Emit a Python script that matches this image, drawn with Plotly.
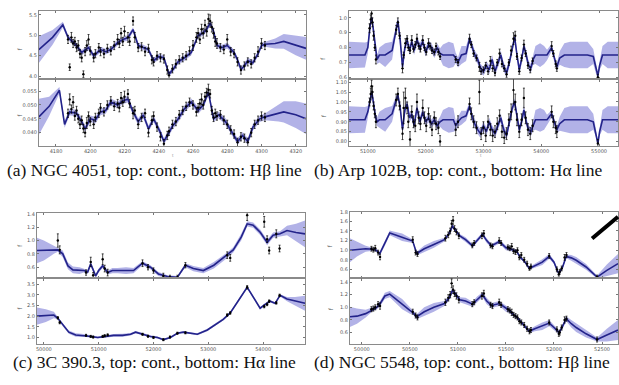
import numpy as np
import plotly.graph_objects as go

# ---------------- Panel (a) NGC 4051 ----------------
a_gp_t_cont = [4170, 4178, 4184, 4187, 4189, 4192, 4195, 4199, 4202, 4206,
               4209, 4212, 4216, 4219, 4222, 4225, 4228, 4231, 4234, 4237,
               4240, 4243, 4246, 4249, 4251, 4255, 4259, 4263, 4266, 4268,
               4270, 4272, 4274, 4277, 4280, 4284, 4286, 4288, 4290, 4292,
               4295, 4298, 4300, 4302, 4308, 4313, 4320, 4326]
a_cont_mean = [4.65, 4.95, 5.26, 4.95, 4.87, 4.75, 4.58, 4.70, 4.50, 4.65,
               4.60, 4.65, 4.82, 4.90, 4.94, 5.14, 4.75, 4.70, 4.65, 4.38,
               4.48, 4.45, 4.05, 4.20, 4.34, 4.45, 4.58, 5.00, 5.06, 5.15,
               5.30, 5.10, 4.75, 4.70, 4.75, 4.58, 4.40, 4.17, 4.25, 4.38,
               4.33, 4.55, 4.75, 4.78, 4.80, 4.85, 4.75, 4.68]
a_cont_sig = [0.33, 0.18, 0.07, 0.06, 0.06, 0.07, 0.06, 0.07, 0.06, 0.07,
              0.07, 0.06, 0.07, 0.06, 0.07, 0.06, 0.07, 0.07, 0.06, 0.07,
              0.07, 0.06, 0.06, 0.07, 0.06, 0.07, 0.07, 0.06, 0.07, 0.06,
              0.06, 0.07, 0.06, 0.07, 0.07, 0.06, 0.07, 0.06, 0.07, 0.07,
              0.06, 0.07, 0.06, 0.06, 0.12, 0.18, 0.24, 0.28]

a_gp_t_line = [4170, 4176, 4182, 4185, 4188, 4192, 4195, 4197, 4200, 4203,
               4206, 4209, 4212, 4216, 4219, 4222, 4225, 4228, 4231, 4234,
               4237, 4241, 4243, 4246, 4248, 4251, 4255, 4259, 4263, 4266,
               4269, 4272, 4275, 4279, 4283, 4286, 4289, 4292, 4295, 4299,
               4302, 4310, 4313, 4320, 4326]
a_line_mean = [0.0457, 0.0495, 0.0553, 0.0430, 0.0475, 0.0470, 0.0440, 0.0414, 0.0450, 0.0445,
               0.0475, 0.0480, 0.0511, 0.0500, 0.0515, 0.0521, 0.0475, 0.0440, 0.0464, 0.0414,
               0.0450, 0.0400, 0.0368, 0.0400, 0.0423, 0.0446, 0.0486, 0.0511, 0.0480, 0.0500,
               0.0546, 0.0450, 0.0464, 0.0440, 0.0400, 0.0368, 0.0390, 0.0368, 0.0420, 0.0450,
               0.0457, 0.0470, 0.0475, 0.0465, 0.0450]
a_line_sig = [0.0065, 0.0035, 0.0012, 0.0012, 0.0012, 0.0012, 0.0012, 0.0012, 0.0012, 0.0012,
              0.0012, 0.0012, 0.0012, 0.0012, 0.0012, 0.0012, 0.0012, 0.0012, 0.0012, 0.0012,
              0.0012, 0.0012, 0.0012, 0.0012, 0.0012, 0.0012, 0.0012, 0.0012, 0.0012, 0.0012,
              0.0012, 0.0012, 0.0012, 0.0012, 0.0012, 0.0012, 0.0012, 0.0012, 0.0012, 0.0012,
              0.0012, 0.0030, 0.0038, 0.0048, 0.0055]

a_obs_t = [4187, 4188, 4189, 4190, 4191, 4192, 4193, 4194, 4195, 4196,
           4197, 4198, 4199, 4200, 4202, 4203, 4205, 4206, 4208, 4210,
           4212, 4214, 4216, 4217, 4218, 4219, 4220, 4222, 4223, 4225,
           4226, 4228, 4230, 4232, 4234, 4236, 4237, 4239, 4241, 4243,
           4245, 4246, 4248, 4250, 4252, 4254, 4256, 4258, 4260, 4262,
           4263, 4264, 4265, 4266, 4267, 4268, 4269, 4270, 4271, 4272,
           4273, 4274, 4276, 4278, 4280, 4282, 4284, 4286, 4288, 4290,
           4292, 4294, 4296, 4298, 4300, 4302]
a_obs_cont = [4.90, 4.22, 4.95, 4.80, 4.85, 4.70, 4.75, 4.55, 4.45, 4.05,
              4.60, 4.75, 4.90, 4.62, 4.45, 4.55, 4.70, 4.60, 4.55, 4.68,
              4.62, 4.75, 4.90, 4.80, 5.05, 4.85, 5.10, 4.95, 4.85, 5.35,
              4.95, 4.70, 4.72, 4.60, 4.68, 4.40, 4.35, 4.50, 4.45, 4.42,
              4.15, 4.02, 4.18, 4.30, 4.40, 4.45, 4.50, 4.62, 4.75, 4.95,
              5.05, 4.90, 5.15, 5.05, 5.25, 5.10, 5.40, 5.35, 5.20, 5.05,
              4.85, 4.80, 4.70, 4.65, 4.90, 4.60, 4.55, 4.35, 4.15, 4.25,
              4.35, 4.30, 4.45, 4.60, 4.80, 4.75]
a_obs_cont_err = [0.10, 0.08, 0.12, 0.10, 0.10, 0.10, 0.12, 0.10, 0.10, 0.08,
                  0.10, 0.12, 0.12, 0.10, 0.10, 0.10, 0.10, 0.10, 0.10, 0.10,
                  0.10, 0.10, 0.12, 0.10, 0.12, 0.10, 0.12, 0.12, 0.10, 0.10,
                  0.12, 0.10, 0.10, 0.10, 0.10, 0.10, 0.10, 0.10, 0.10, 0.10,
                  0.10, 0.08, 0.10, 0.10, 0.10, 0.10, 0.10, 0.10, 0.12, 0.12,
                  0.12, 0.10, 0.12, 0.12, 0.12, 0.12, 0.12, 0.15, 0.12, 0.12,
                  0.12, 0.12, 0.10, 0.10, 0.12, 0.10, 0.10, 0.10, 0.10, 0.10,
                  0.10, 0.10, 0.10, 0.12, 0.12, 0.10]
a_obs_line = [0.0470, 0.0520, 0.0485, 0.0510, 0.0460, 0.0480, 0.0450, 0.0430, 0.0445, 0.0415,
              0.0400, 0.0435, 0.0460, 0.0440, 0.0430, 0.0455, 0.0470, 0.0490, 0.0475, 0.0500,
              0.0515, 0.0495, 0.0505, 0.0490, 0.0525, 0.0510, 0.0530, 0.0540, 0.0505, 0.0470,
              0.0480, 0.0430, 0.0455, 0.0470, 0.0400, 0.0445, 0.0460, 0.0420, 0.0385, 0.0360,
              0.0390, 0.0405, 0.0430, 0.0440, 0.0465, 0.0480, 0.0495, 0.0510, 0.0500, 0.0475,
              0.0490, 0.0505, 0.0520, 0.0500, 0.0530, 0.0545, 0.0555, 0.0540, 0.0480, 0.0455,
              0.0470, 0.0460, 0.0465, 0.0445, 0.0430, 0.0410, 0.0395, 0.0365, 0.0385, 0.0380,
              0.0365, 0.0400, 0.0430, 0.0445, 0.0460, 0.0455]
a_obs_line_err = [0.0015, 0.0020, 0.0015, 0.0020, 0.0015, 0.0015, 0.0015, 0.0015, 0.0015, 0.0015,
                  0.0015, 0.0020, 0.0015, 0.0015, 0.0015, 0.0015, 0.0015, 0.0015, 0.0015, 0.0015,
                  0.0015, 0.0015, 0.0015, 0.0015, 0.0020, 0.0015, 0.0020, 0.0015, 0.0015, 0.0020,
                  0.0015, 0.0015, 0.0015, 0.0015, 0.0015, 0.0015, 0.0015, 0.0015, 0.0015, 0.0015,
                  0.0015, 0.0015, 0.0015, 0.0015, 0.0015, 0.0015, 0.0015, 0.0015, 0.0015, 0.0015,
                  0.0015, 0.0015, 0.0020, 0.0015, 0.0015, 0.0015, 0.0020, 0.0015, 0.0015, 0.0015,
                  0.0015, 0.0015, 0.0015, 0.0015, 0.0015, 0.0015, 0.0015, 0.0015, 0.0015, 0.0015,
                  0.0015, 0.0015, 0.0015, 0.0015, 0.0015, 0.0015]

# ---------------- Panel (b) Arp 102B ----------------
b_gp_t = [50670, 50950, 51000, 51040, 51070, 51100, 51130, 51160, 51200, 51300,
          51420, 51480, 51520, 51560, 51600, 51640, 51680, 51720, 51760, 51800,
          51850, 51900, 51950, 52000, 52050, 52100, 52150, 52200, 52250, 52300,
          52400, 52480, 52520, 52560, 52620, 52700, 52760, 52810, 52850, 52900,
          52950, 53000, 53050, 53100, 53150, 53200, 53250, 53300, 53350, 53400,
          53450, 53500, 53540, 53580, 53620, 53660, 53700, 53740, 53780, 53820,
          53860, 53900, 53980, 54050, 54100, 54180, 54230, 54270, 54320, 54400,
          54500, 54800, 54900, 54950, 54980, 55010, 55060, 55150, 55330]
b_cont_mean = [0.75, 0.75, 0.80, 0.95, 1.00, 0.90, 0.78, 0.72, 0.75, 0.75,
               0.78, 0.90, 0.98, 0.85, 0.67, 0.80, 0.85, 0.78, 0.84, 0.78,
               0.85, 0.80, 0.84, 0.77, 0.82, 0.80, 0.76, 0.80, 0.76, 0.75,
               0.75, 0.75, 0.73, 0.70, 0.75, 0.76, 0.86, 0.80, 0.75, 0.72,
               0.66, 0.64, 0.68, 0.65, 0.72, 0.64, 0.70, 0.75, 0.67, 0.63,
               0.70, 0.80, 0.87, 0.75, 0.65, 0.72, 0.81, 0.75, 0.68, 0.66,
               0.72, 0.75, 0.75, 0.75, 0.75, 0.80, 0.72, 0.67, 0.73, 0.75,
               0.75, 0.75, 0.74, 0.65, 0.61, 0.68, 0.75, 0.75, 0.75]
b_cont_sig = [0.09, 0.085, 0.04, 0.025, 0.025, 0.025, 0.025, 0.03, 0.05, 0.08,
              0.06, 0.03, 0.025, 0.025, 0.025, 0.03, 0.03, 0.03, 0.03, 0.03,
              0.03, 0.03, 0.03, 0.03, 0.03, 0.03, 0.03, 0.03, 0.035, 0.07,
              0.09, 0.08, 0.035, 0.035, 0.06, 0.05, 0.025, 0.03, 0.03, 0.03,
              0.03, 0.03, 0.03, 0.03, 0.03, 0.03, 0.03, 0.03, 0.03, 0.03,
              0.03, 0.03, 0.025, 0.03, 0.03, 0.03, 0.03, 0.03, 0.03, 0.03,
              0.035, 0.06, 0.08, 0.06, 0.035, 0.025, 0.025, 0.025, 0.045, 0.08,
              0.09, 0.09, 0.05, 0.03, 0.02, 0.03, 0.06, 0.09, 0.09]
b_line_mean = [0.91, 0.91, 0.95, 1.02, 1.05, 0.99, 0.93, 0.90, 0.91, 0.91,
               0.94, 1.00, 1.035, 0.97, 0.86, 0.96, 0.99, 0.92, 0.94, 0.88,
               0.97, 0.90, 0.95, 0.90, 0.92, 0.89, 0.91, 0.88, 0.90, 0.91,
               0.91, 0.91, 0.88, 0.90, 0.92, 0.93, 0.98, 0.92, 0.89, 0.86,
               0.84, 0.88, 0.85, 0.90, 0.86, 0.84, 0.88, 0.92, 0.86, 0.83,
               0.90, 0.97, 1.00, 0.92, 0.86, 0.90, 0.96, 0.90, 0.86, 0.85,
               0.88, 0.91, 0.91, 0.91, 0.91, 0.94, 0.89, 0.86, 0.89, 0.91,
               0.91, 0.91, 0.90, 0.84, 0.79, 0.85, 0.91, 0.91, 0.91]
b_line_sig = [0.068, 0.065, 0.03, 0.018, 0.018, 0.018, 0.018, 0.022, 0.04, 0.06,
              0.04, 0.022, 0.018, 0.018, 0.018, 0.022, 0.022, 0.022, 0.022, 0.022,
              0.022, 0.022, 0.022, 0.022, 0.022, 0.022, 0.022, 0.022, 0.025, 0.05,
              0.065, 0.06, 0.025, 0.025, 0.035, 0.025, 0.018, 0.022, 0.022, 0.022,
              0.022, 0.022, 0.022, 0.022, 0.022, 0.022, 0.022, 0.022, 0.022, 0.022,
              0.022, 0.022, 0.018, 0.022, 0.022, 0.022, 0.022, 0.022, 0.022, 0.022,
              0.025, 0.05, 0.06, 0.05, 0.025, 0.018, 0.018, 0.018, 0.035, 0.06,
              0.068, 0.068, 0.04, 0.02, 0.015, 0.02, 0.05, 0.068, 0.068]

b_obs_t = [51030, 51050, 51065, 51080, 51100, 51120, 51140, 51490, 51520, 51550,
           51600, 51620, 51650, 51680, 51700, 51730, 51760, 51790, 51820, 51850,
           51880, 51910, 51950, 51980, 52010, 52050, 52080, 52110, 52150, 52180,
           52220, 52250, 52520, 52560, 52760, 52790, 52830, 52880, 52930, 52960,
           53000, 53040, 53080, 53120, 53160, 53200, 53240, 53280, 53320, 53360,
           53400, 53440, 53480, 53520, 53550, 53580, 53620, 53660, 53700, 53730,
           53770, 53810, 53850, 54180, 54210, 54250, 54270, 54980]
b_obs_cont = [0.93, 0.99, 1.03, 0.97, 0.88, 0.80, 0.72, 0.92, 0.97, 0.88,
              0.66, 0.75, 0.83, 0.86, 0.80, 0.78, 0.85, 0.79, 0.82, 0.86,
              0.81, 0.79, 0.85, 0.80, 0.77, 0.83, 0.81, 0.78, 0.77, 0.81,
              0.77, 0.74, 0.72, 0.70, 0.86, 0.82, 0.76, 0.73, 0.67, 0.64,
              0.65, 0.68, 0.64, 0.71, 0.66, 0.63, 0.70, 0.76, 0.69, 0.66,
              0.62, 0.70, 0.78, 0.86, 0.88, 0.74, 0.64, 0.73, 0.82, 0.76,
              0.68, 0.65, 0.71, 0.81, 0.76, 0.69, 0.66, 0.60]
b_obs_cont_err = [0.03, 0.03, 0.03, 0.03, 0.03, 0.02, 0.03, 0.03, 0.03, 0.02,
                  0.03, 0.02, 0.03, 0.02, 0.02, 0.02, 0.03, 0.02, 0.02, 0.03,
                  0.02, 0.02, 0.03, 0.02, 0.02, 0.03, 0.02, 0.02, 0.02, 0.02,
                  0.02, 0.02, 0.02, 0.02, 0.03, 0.02, 0.02, 0.02, 0.03, 0.02,
                  0.02, 0.02, 0.02, 0.03, 0.02, 0.02, 0.02, 0.03, 0.02, 0.02,
                  0.02, 0.02, 0.03, 0.04, 0.03, 0.02, 0.02, 0.02, 0.03, 0.02,
                  0.02, 0.02, 0.02, 0.03, 0.02, 0.02, 0.02, 0.02]
b_obs_line = [1.00, 1.04, 1.08, 1.05, 0.98, 0.94, 0.90, 1.01, 1.04, 0.98,
              0.84, 0.97, 1.02, 0.97, 0.90, 0.81, 0.95, 0.90, 0.88, 1.00,
              0.92, 0.89, 0.97, 0.92, 0.88, 0.94, 0.90, 0.86, 0.92, 0.89,
              0.87, 0.80, 0.86, 0.90, 0.99, 0.94, 0.90, 0.87, 1.05, 0.84,
              0.87, 0.83, 0.90, 0.86, 0.83, 0.85, 0.89, 0.93, 0.85, 0.82,
              0.84, 0.91, 0.95, 1.06, 1.00, 0.91, 0.85, 0.91, 1.02, 0.92,
              0.86, 0.84, 0.88, 0.95, 0.90, 0.87, 0.85, 0.79]
b_obs_line_err = [0.02, 0.03, 0.03, 0.03, 0.02, 0.02, 0.03, 0.03, 0.03, 0.02,
                  0.03, 0.08, 0.05, 0.03, 0.03, 0.04, 0.03, 0.03, 0.03, 0.04,
                  0.03, 0.03, 0.04, 0.03, 0.03, 0.03, 0.03, 0.03, 0.03, 0.03,
                  0.03, 0.03, 0.03, 0.03, 0.03, 0.03, 0.03, 0.03, 0.06, 0.03,
                  0.03, 0.03, 0.03, 0.03, 0.03, 0.03, 0.03, 0.03, 0.03, 0.03,
                  0.03, 0.03, 0.04, 0.07, 0.04, 0.03, 0.03, 0.03, 0.05, 0.03,
                  0.03, 0.03, 0.03, 0.03, 0.03, 0.03, 0.03, 0.02]

# ---------------- Panel (c) 3C 390.3 ----------------
c_gp_t_cont = [49873, 50000, 50182, 50255, 50345, 50440, 50530, 50650, 50730, 50800,
               50855, 50945, 51000, 51073, 51164, 51250, 51345, 51500, 51636, 51800,
               51945, 52090, 52255, 52436, 52582, 52727, 52909, 53100, 53345, 53455,
               53600, 53709, 53818, 53950, 54073, 54182, 54309, 54436, 54600, 54764]
c_cont_mean = [0.85, 0.85, 0.86, 0.86, 0.80, 0.62, 0.56, 0.55, 0.55, 0.53,
               0.65, 0.47, 0.55, 0.62, 0.52, 0.55, 0.55, 0.55, 0.55, 0.66,
               0.60, 0.50, 0.46, 0.45, 0.63, 0.58, 0.55, 0.63, 0.78, 0.86,
               1.05, 1.25, 1.23, 1.12, 0.97, 1.08, 1.10, 1.15, 1.12, 1.10]
c_cont_sig = [0.19, 0.15, 0.06, 0.03, 0.05, 0.05, 0.05, 0.05, 0.03, 0.03,
              0.03, 0.03, 0.03, 0.03, 0.03, 0.04, 0.04, 0.05, 0.04, 0.03,
              0.03, 0.03, 0.02, 0.02, 0.03, 0.04, 0.04, 0.05, 0.04, 0.04,
              0.05, 0.04, 0.04, 0.04, 0.04, 0.04, 0.04, 0.07, 0.13, 0.20]
c_gp_t_line = [49873, 50037, 50182, 50255, 50345, 50455, 50582, 50727, 50855, 50982,
               51127, 51273, 51436, 51582, 51673, 51800, 51945, 52073, 52182, 52309,
               52436, 52545, 52673, 52800, 52982, 53127, 53273, 53400, 53545, 53709,
               53818, 53945, 54036, 54127, 54218, 54309, 54436, 54582, 54764]
c_line_mean = [2.00, 2.02, 2.05, 1.90, 1.60, 1.25, 1.12, 1.10, 1.05, 1.00,
               1.05, 1.10, 1.10, 1.15, 1.25, 1.15, 1.05, 1.00, 0.90, 1.00,
               1.20, 1.25, 1.20, 1.15, 1.35, 1.60, 1.85, 2.15, 2.70, 3.35,
               2.90, 2.37, 2.55, 2.70, 2.60, 2.97, 2.80, 2.70, 2.60]
c_line_sig = [0.40, 0.30, 0.15, 0.05, 0.07, 0.08, 0.08, 0.06, 0.05, 0.05,
              0.05, 0.06, 0.07, 0.06, 0.05, 0.05, 0.05, 0.05, 0.04, 0.04,
              0.04, 0.04, 0.05, 0.05, 0.06, 0.07, 0.06, 0.05, 0.06, 0.05,
              0.07, 0.05, 0.05, 0.05, 0.05, 0.05, 0.10, 0.20, 0.35]
c_obs_t = [50255, 50290, 50770, 50855, 50900, 51073, 51110, 51164, 51800, 51900,
           52000, 52180, 52300, 52436, 52582, 53345, 53400, 53709, 54020, 54073,
           54110, 54240, 54300]
c_obs_cont = [1.00, 0.86, 0.52, 0.68, 0.48, 0.72, 0.58, 0.52, 0.66, 0.60,
              0.55, 0.47, 0.45, 0.45, 0.63, 0.78, 0.74, 1.38, 1.28, 1.02,
              0.85, 1.10, 0.88]
c_obs_cont_err = [0.10, 0.06, 0.04, 0.07, 0.04, 0.08, 0.05, 0.05, 0.05, 0.04,
                  0.04, 0.04, 0.03, 0.03, 0.04, 0.05, 0.05, 0.08, 0.08, 0.05,
                  0.05, 0.06, 0.05]
c_obs_line = [1.92, 1.70, 1.10, 1.05, 1.02, 1.05, 1.08, 1.12, 1.15, 1.06,
              1.00, 0.90, 1.02, 1.20, 1.22, 2.05, 2.15, 3.35, 2.45, 2.55,
              2.70, 2.62, 2.97]
c_obs_line_err = [0.06, 0.06, 0.05, 0.05, 0.05, 0.05, 0.05, 0.05, 0.05, 0.05,
                  0.05, 0.05, 0.05, 0.05, 0.05, 0.06, 0.06, 0.08, 0.06, 0.06,
                  0.06, 0.06, 0.06]

# ---------------- Panel (d) NGC 5548 ----------------
d_gp_t = [49876, 49950, 50040, 50115, 50150, 50187, 50240, 50291, 50330, 50420,
          50500, 50530, 50571, 50650, 50750, 50860, 50910, 50944, 50980, 51020,
          51080, 51152, 51200, 51256, 51300, 51349, 51432, 51500, 51536, 51580,
          51609, 51650, 51700, 51743, 51800, 51878, 51951, 52000, 52040, 52054,
          52090, 52127, 52180, 52231, 52334, 52448, 52550, 52666]
d_cont_mean = [1.00, 1.02, 1.03, 1.02, 1.00, 0.93, 1.15, 1.36, 1.33, 1.27,
               1.21, 1.19, 0.93, 1.03, 1.12, 1.22, 1.35, 1.50, 1.40, 1.30,
               1.22, 1.09, 1.20, 1.33, 1.20, 1.09, 1.18, 1.05, 1.03, 1.00,
               0.98, 0.85, 0.75, 0.62, 0.68, 0.75, 0.87, 0.75, 0.55, 0.52,
               0.65, 0.87, 0.84, 0.79, 0.65, 0.44, 0.58, 0.72]
d_cont_sig = [0.25, 0.15, 0.06, 0.03, 0.03, 0.04, 0.06, 0.05, 0.06, 0.08,
              0.05, 0.03, 0.04, 0.07, 0.07, 0.04, 0.04, 0.04, 0.04, 0.04,
              0.05, 0.04, 0.05, 0.04, 0.05, 0.04, 0.04, 0.05, 0.04, 0.03,
              0.03, 0.03, 0.03, 0.03, 0.04, 0.06, 0.05, 0.04, 0.03, 0.03,
              0.04, 0.04, 0.06, 0.07, 0.06, 0.03, 0.12, 0.20]
d_line_mean = [0.85, 0.86, 0.90, 0.97, 0.99, 1.05, 1.18, 1.21, 1.16, 1.05,
               0.95, 0.92, 0.85, 0.93, 1.00, 1.06, 1.15, 1.27, 1.20, 1.12,
               1.10, 1.05, 1.12, 1.20, 1.10, 1.03, 1.06, 0.98, 0.95, 0.88,
               0.85, 0.78, 0.70, 0.62, 0.66, 0.70, 0.75, 0.68, 0.62, 0.60,
               0.70, 0.82, 0.74, 0.68, 0.58, 0.49, 0.56, 0.64]
d_line_sig = [0.16, 0.12, 0.06, 0.03, 0.03, 0.04, 0.05, 0.05, 0.06, 0.08,
              0.05, 0.03, 0.04, 0.07, 0.07, 0.04, 0.04, 0.04, 0.04, 0.04,
              0.05, 0.04, 0.05, 0.04, 0.05, 0.04, 0.04, 0.05, 0.04, 0.03,
              0.03, 0.03, 0.03, 0.03, 0.04, 0.06, 0.05, 0.04, 0.03, 0.03,
              0.04, 0.04, 0.06, 0.07, 0.06, 0.03, 0.10, 0.16]
d_obs_t = [50100, 50120, 50140, 50170, 50190, 50530, 50560, 50580, 50870, 50900,
           50920, 50935, 50950, 50965, 50985, 51010, 51150, 51170, 51250, 51270,
           51340, 51360, 51430, 51450, 51520, 51540, 51560, 51580, 51600, 51620,
           51640, 51660, 51690, 51720, 51745, 51760, 51950, 52030, 52050, 52060,
           52080, 52110, 52130, 52448]
d_obs_cont = [1.03, 1.01, 1.04, 0.95, 0.86, 1.22, 0.95, 0.92, 1.25, 1.32,
              1.40, 1.55, 1.62, 1.45, 1.38, 1.30, 1.10, 1.15, 1.30, 1.35,
              1.10, 1.08, 1.20, 1.15, 1.06, 1.04, 1.08, 0.98, 0.96, 1.00,
              0.85, 0.90, 0.80, 0.72, 0.62, 0.66, 0.88, 0.60, 0.50, 0.55,
              0.62, 0.85, 0.90, 0.44]
d_obs_cont_err = [0.05, 0.05, 0.06, 0.05, 0.06, 0.06, 0.05, 0.05, 0.06, 0.06,
                  0.06, 0.07, 0.08, 0.06, 0.06, 0.06, 0.05, 0.05, 0.06, 0.06,
                  0.05, 0.05, 0.06, 0.05, 0.05, 0.05, 0.06, 0.05, 0.05, 0.05,
                  0.05, 0.05, 0.05, 0.05, 0.04, 0.05, 0.05, 0.05, 0.04, 0.05,
                  0.05, 0.06, 0.05, 0.04]
d_obs_line = [0.97, 0.98, 1.00, 1.05, 1.02, 0.93, 0.87, 0.84, 1.08, 1.15,
              1.20, 1.38, 1.28, 1.22, 1.18, 1.12, 1.05, 1.08, 1.18, 1.22,
              1.04, 1.02, 1.08, 1.04, 0.97, 0.95, 0.92, 0.88, 0.86, 0.84,
              0.78, 0.76, 0.72, 0.66, 0.62, 0.64, 0.76, 0.65, 0.58, 0.60,
              0.68, 0.80, 0.82, 0.49]
d_obs_line_err = [0.04, 0.04, 0.04, 0.04, 0.05, 0.04, 0.04, 0.04, 0.05, 0.05,
                  0.05, 0.07, 0.06, 0.05, 0.05, 0.05, 0.04, 0.04, 0.05, 0.05,
                  0.04, 0.04, 0.05, 0.04, 0.04, 0.04, 0.05, 0.04, 0.04, 0.04,
                  0.04, 0.04, 0.04, 0.04, 0.04, 0.04, 0.04, 0.04, 0.04, 0.04,
                  0.04, 0.05, 0.04, 0.04]

captions = ["(a) NGC 4051, top: cont., bottom: Hβ line",
            "(b) Arp 102B, top: cont., bottom: Hα line",
            "(c) 3C 390.3, top: cont., bottom: Hα line",
            "(d) NGC 5548, top: cont., bottom: Hβ line"]

BAND = "rgba(95,95,205,0.48)"
LINE = "#23238a"
W, H = 619, 385

fig = go.Figure()


def add_series(n, t_gp, mean, sig, t_obs, obs, err):
    xa, ya = ("x", "y") if n == 1 else ("x%d" % n, "y%d" % n)
    t = np.array(t_gp, dtype=float)
    m = np.array(mean, dtype=float)
    s = np.array(sig, dtype=float)
    fig.add_trace(go.Scatter(x=np.concatenate([t, t[::-1]]),
                             y=np.concatenate([m + s, (m - s)[::-1]]),
                             fill="toself", fillcolor=BAND, mode="lines",
                             line=dict(width=0), hoverinfo="skip",
                             showlegend=False, xaxis=xa, yaxis=ya))
    fig.add_trace(go.Scatter(x=t, y=m, mode="lines",
                             line=dict(color=LINE, width=1.6),
                             showlegend=False, xaxis=xa, yaxis=ya))
    fig.add_trace(go.Scatter(x=t_obs, y=obs, mode="markers",
                             marker=dict(color="black", size=2.4),
                             error_y=dict(type="data", array=err, color="black",
                                          thickness=0.7, width=1),
                             showlegend=False, xaxis=xa, yaxis=ya))


def px_x(a, b):
    return [a / W, b / W]


def px_y(top, bottom):
    return [1 - bottom / H, 1 - top / H]


tickfont = dict(size=5, color="#555", family="DejaVu Sans")


def set_axes(n, xdom, ydom, xr, yr, xticks, yticks, yfmt, xfmt, showx):
    xk = "xaxis" if n == 1 else "xaxis%d" % n
    yk = "yaxis" if n == 1 else "yaxis%d" % n
    xa = "x" if n == 1 else "x%d" % n
    ya = "y" if n == 1 else "y%d" % n
    common = dict(showline=True, linecolor="#8a8a8a", linewidth=1, mirror="ticks",
                  ticks="inside", ticklen=2.5, tickcolor="#777", tickwidth=0.6,
                  showgrid=False, zeroline=False, tickfont=tickfont, fixedrange=True)
    fig.update_layout(**{
        xk: dict(domain=xdom, range=xr, anchor=ya, tickvals=xticks,
                 showticklabels=showx, tickformat=xfmt, **common),
        yk: dict(domain=ydom, range=yr, anchor=xa, tickvals=yticks,
                 tickformat=yfmt, **common),
    })


# panel a
add_series(1, a_gp_t_cont, a_cont_mean, a_cont_sig, a_obs_t, a_obs_cont, a_obs_cont_err)
add_series(2, a_gp_t_line, a_line_mean, a_line_sig, a_obs_t, a_obs_line, a_obs_line_err)
# panel b
add_series(3, b_gp_t, b_cont_mean, b_cont_sig, b_obs_t, b_obs_cont, b_obs_cont_err)
add_series(4, b_gp_t, b_line_mean, b_line_sig, b_obs_t, b_obs_line, b_obs_line_err)
# panel c
add_series(5, c_gp_t_cont, c_cont_mean, c_cont_sig, c_obs_t, c_obs_cont, c_obs_cont_err)
add_series(6, c_gp_t_line, c_line_mean, c_line_sig, c_obs_t, c_obs_line, c_obs_line_err)
# panel d
add_series(7, d_gp_t, d_cont_mean, d_cont_sig, d_obs_t, d_obs_cont, d_obs_cont_err)
add_series(8, d_gp_t, d_line_mean, d_line_sig, d_obs_t, d_obs_line, d_obs_line_err)

a_x = [4180, 4200, 4220, 4240, 4260, 4280, 4300, 4320]
b_x = [51000, 52000, 53000, 54000, 55000]
c_x = [50000, 51000, 52000, 53000, 54000]
d_x = [50000, 50500, 51000, 51500, 52000, 52500]

set_axes(1, px_x(38, 306), px_y(8, 77), [4170, 4326], [3.926, 5.597], a_x,
         [4.0, 4.5, 5.0, 5.5], ".1f", "d", False)
set_axes(2, px_x(38, 306), px_y(77, 145), [4170, 4326], [0.035, 0.0593], a_x,
         [0.040, 0.045, 0.050, 0.055], ".3f", "d", True)
set_axes(3, px_x(349, 619), px_y(8, 77), [50672, 55328], [0.587, 1.047], b_x,
         [0.6, 0.7, 0.8, 0.9, 1.0], ".1f", "d", False)
set_axes(4, px_x(349, 619), px_y(77, 145), [50672, 55328], [0.775, 1.115], b_x,
         [0.80, 0.85, 0.90, 0.95, 1.00, 1.05, 1.10], ".2f", "d", True)
set_axes(5, px_x(36, 305), px_y(212, 278), [49873, 54764], [0.437, 1.415], c_x,
         [0.6, 0.8, 1.0, 1.2, 1.4], ".1f", "d", False)
set_axes(6, px_x(36, 305), px_y(278, 345), [49873, 54764], [0.676, 3.78], c_x,
         [1.0, 1.5, 2.0, 2.5, 3.0, 3.5], ".1f", "d", True)
set_axes(7, px_x(350, 619), px_y(211, 278), [49876, 52666], [0.418, 1.80], d_x,
         [0.6, 0.8, 1.0, 1.2, 1.4, 1.6, 1.8], ".1f", "d", False)
set_axes(8, px_x(350, 619), px_y(278, 345), [49876, 52666], [0.412, 1.463], d_x,
         [0.6, 0.8, 1.0, 1.2, 1.4], ".1f", "d", True)

ann = []
capfont = dict(family="Liberation Serif", size=17.5, color="#111")
ann.append(dict(x=154 / W, y=1 - 169 / H, text=captions[0], xanchor="center", yanchor="middle"))
ann.append(dict(x=312 / W, y=1 - 169 / H, text=captions[1], xanchor="left", yanchor="middle"))
ann.append(dict(x=154 / W, y=1 - 363 / H, text=captions[2], xanchor="center", yanchor="middle"))
ann.append(dict(x=312 / W, y=1 - 363 / H, text=captions[3], xanchor="left", yanchor="middle"))
for a in ann:
    a.update(xref="paper", yref="paper", showarrow=False, font=capfont)

small = dict(family="DejaVu Sans", size=6, color="#555")
for (xp, yp) in [(13, 43), (13, 110), (323, 52), (323, 110),
                 (13, 245), (13, 312), (330, 245), (330, 312)]:
    ann.append(dict(x=xp / W, y=1 - yp / H, text="f", textangle=-90, showarrow=False,
                    xref="paper", yref="paper", font=small))
for (xp, yp) in [(170, 154), (485, 154)]:
    ann.append(dict(x=xp / W, y=1 - yp / H, text="t", showarrow=False,
                    xref="paper", yref="paper", font=dict(family="DejaVu Sans", size=4, color="#888")))

fig.update_layout(
    width=W, height=H, margin=dict(l=0, r=0, t=0, b=0),
    paper_bgcolor="white", plot_bgcolor="white",
    showlegend=False, annotations=ann,
    shapes=[dict(type="line", xref="paper", yref="paper",
                 x0=593 / W, y0=1 - 238 / H, x1=619 / W, y1=1 - 216 / H,
                 line=dict(color="black", width=4))],
)

fig.write_html("out.html")
